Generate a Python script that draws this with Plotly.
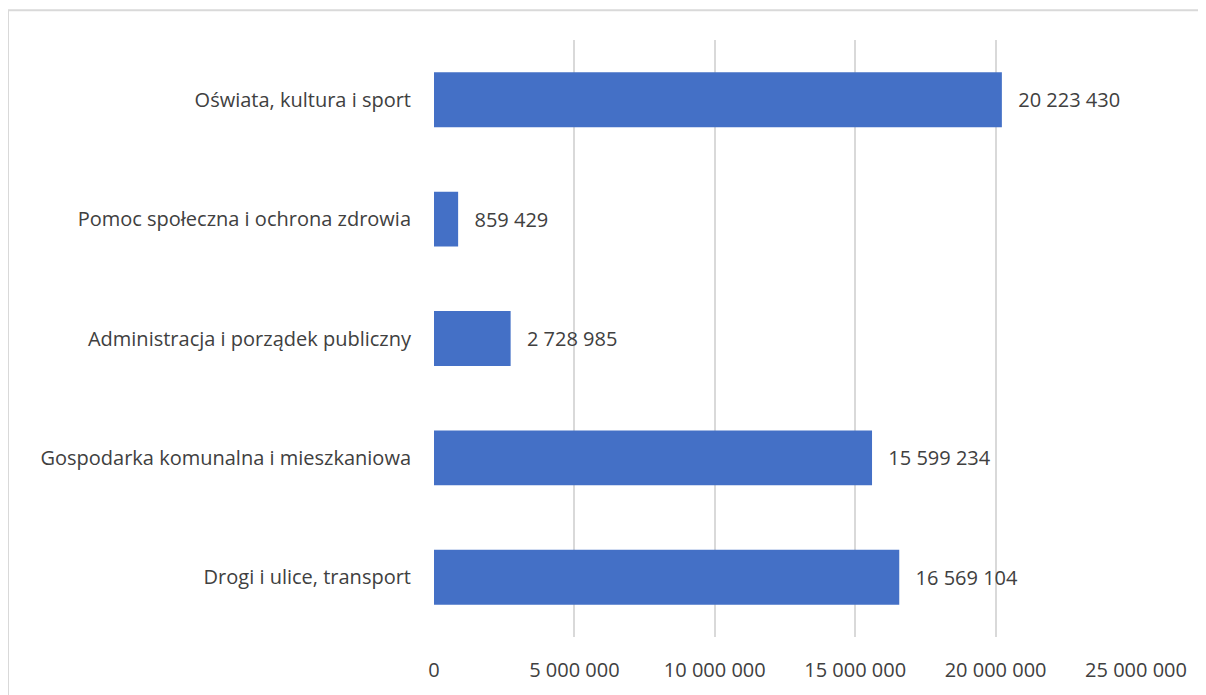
import plotly.graph_objects as go

categories = [
    "Drogi i ulice, transport",
    "Gospodarka komunalna i mieszkaniowa",
    "Administracja i porządek publiczny",
    "Pomoc społeczna i ochrona zdrowia",
    "Oświata, kultura i sport",
]
values = [16569104, 15599234, 2728985, 859429, 20223430]
tick_vals = [0, 5000000, 10000000, 15000000, 20000000, 25000000]
tick_text = ["0", "5 000 000", "10 000 000", "15 000 000", "20 000 000", "25 000 000"]


def fmt(v):
    return "\u2002\u2009" + f"{v:,}".replace(",", " ")


FONT = "'Open Sans', sans-serif"
FS = 20
TXT = "#404040"

fig = go.Figure()
fig.add_trace(go.Bar(
    y=categories,
    x=values,
    orientation="h",
    width=0.46,
    marker=dict(color="#4470C6", line=dict(width=0)),
    text=[fmt(v) for v in values],
    textposition="outside",
    textfont=dict(family=FONT, size=FS, color=TXT),
    cliponaxis=False,
))

# page body has an 8px margin; figure origin sits at page pixel (8, 8)
OFF = 8
W, H = 1206 - OFF, 695 - OFF
L, R, T, B = 434 - OFF, 70, 40 - OFF, 55
pw = W - L - R
ph = H - T - B


def px_x(p):
    return (p - OFF - L) / pw


def px_y(p):
    return 1 - (p - OFF - T) / ph


fig.update_layout(
    width=W, height=H,
    margin=dict(l=L, r=R, t=T, b=B),
    paper_bgcolor="white",
    plot_bgcolor="white",
    showlegend=False,
    font=dict(family=FONT, size=FS, color=TXT),
    xaxis=dict(
        range=[0, 25000000],
        tickvals=tick_vals,
        ticktext=tick_text,
        showgrid=True,
        gridcolor="#D9D9D9",
        gridwidth=1.5,
        zeroline=False,
        showline=False,
        ticks="",
        ticklabelstandoff=19,
        tickfont=dict(family=FONT, size=FS, color=TXT),
        fixedrange=True,
    ),
    yaxis=dict(
        categoryorder="array",
        categoryarray=categories,
        range=[-0.5, 4.5],
        showgrid=False,
        zeroline=False,
        showline=False,
        ticks="",
        ticklabelstandoff=22,
        tickfont=dict(family=FONT, size=FS, color=TXT),
        fixedrange=True,
    ),
    shapes=[
        dict(type="line", xref="paper", yref="paper",
             x0=px_x(8), x1=px_x(1215), y0=px_y(10), y1=px_y(10),
             line=dict(color="#D9D9D9", width=2)),
        dict(type="line", xref="paper", yref="paper",
             x0=px_x(8), x1=px_x(8), y0=px_y(10), y1=px_y(705),
             line=dict(color="#D9D9D9", width=2)),
    ],
)

fig.write_html("out.html")
